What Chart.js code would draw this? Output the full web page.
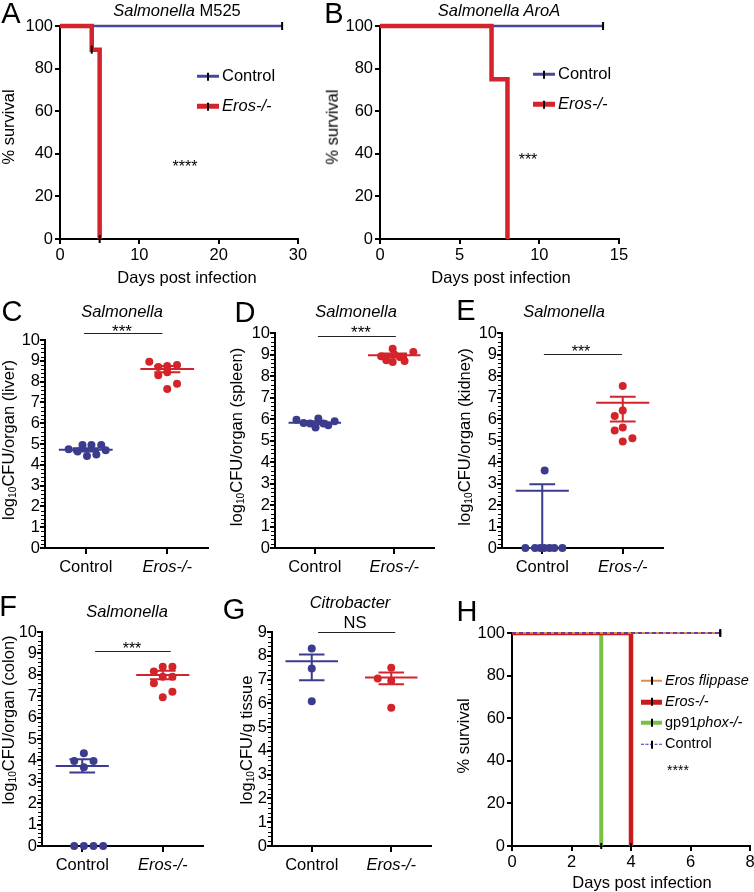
<!DOCTYPE html>
<html>
<head>
<meta charset="utf-8">
<script src="https://cdn.jsdelivr.net/npm/chart.js@4.4.0/dist/chart.umd.min.js"></script>
<style>
html, body { margin: 0; padding: 0; background: #fff; }
#fig { position: relative; width: 754px; height: 892px; overflow: hidden; font-family: "Liberation Sans", Arial, sans-serif; color: #000; }
#fig canvas { position: absolute; left: 0; top: 0; }
.t { position: absolute; white-space: nowrap; line-height: 1; transform: translate(-50%, -50%); }
.rot { transform: translate(-50%, -50%) rotate(-90deg); }
.leg { position: absolute; white-space: nowrap; line-height: 1; transform: translateY(-50%); }
.sw { display: inline-block; vertical-align: middle; position: relative; width: 22px; margin-right: 3px; }
.sw i { position: absolute; left: 10px; width: 2px; height: 8px; top: 50%; margin-top: -4px; background: #000; }
sub { font-size: 0.62em; vertical-align: -0.25em; }
</style>
</head>
<body>
<div id="fig"></div>
<script>
const FONT = "'Liberation Sans', Arial, Helvetica, sans-serif";
const BLUE = '#3c3c8f';
const BLUE_S = '#47479c';
const RED = '#d3242b';
const RED_H = '#c81b1b';
const GREEN = '#7ac143';
const ORANGE = '#e4894a';
const DASH_BLUE = '#2e2eb4';

// ---- A: Salmonella M525 survival
const aCtrlDays = [0, 28];
const aCtrlSurv = [100, 100];
const aErosDays = [0, 4, 5];
const aErosSurv = [100, 88.9, 0];

// ---- B: Salmonella AroA survival
const bCtrlDays = [0, 14];
const bCtrlSurv = [100, 100];
const bErosDays = [0, 7, 8];
const bErosSurv = [100, 75, 0];

// ---- H: survival, four strains
const hFlipDays = [0, 7];
const hFlipSurv = [100, 100];
const hErosDays = [0, 4];
const hErosSurv = [100, 0];
const hPhoxDays = [0, 3];
const hPhoxSurv = [100, 0];
const hCtrlDays = [0, 7];
const hCtrlSurv = [100, 100];

const groups = ['Control', 'Eros-/-'];

// ---- C: liver (x = group index + jitter)
const cCtrlX = [-0.21, -0.1, -0.04, 0.015, 0.07, 0.13, 0.19, 0.245];
const cCtrlY = [4.75, 4.64, 4.95, 4.42, 4.95, 4.5, 4.95, 4.7];
const cErosX = [0.78, 0.89, 1.0, 1.12, 0.89, 1.0, 1.12, 1.0];
const cErosY = [8.95, 8.7, 8.75, 8.8, 8.3, 8.45, 7.9, 7.65];
const cMean = [4.72, 8.6], cHi = [4.8, 8.75], cLo = [4.64, 8.45];

// ---- D: spleen
const dCtrlX = [-0.23, -0.14, -0.06, 0.01, 0.045, 0.11, 0.17, 0.25];
const dCtrlY = [5.97, 5.81, 5.79, 5.6, 6.02, 5.79, 5.71, 5.89];
const dErosX = [0.835, 0.9, 0.98, 0.98, 1.07, 1.13, 1.24, 1.0];
const dErosY = [8.92, 8.73, 9.27, 8.65, 8.88, 8.7, 9.12, 9.0];
const dMean = [5.83, 8.96], dHi = [5.9, 9.05], dLo = [5.76, 8.87];

// ---- E: kidney
const eCtrlX = [-0.21, -0.09, -0.025, 0.025, 0.09, 0.15, 0.25, 0.03];
const eCtrlY = [0, 0, 0, 0, 0, 0, 0, 3.6];
const eErosX = [1.0, 1.0, 0.9, 1.0, 0.9, 1.12, 1.0];
const eErosY = [7.53, 6.39, 6.14, 5.61, 5.46, 5.1, 4.95];
const eMean = [2.66, 6.76], eHi = [2.96, 7.04], eLo = [0, 5.88];

// ---- F: colon
const fCtrlX = [-0.1, 0.02, 0.14, 0.26, 0.02, -0.1, 0.14, 0.02];
const fCtrlY = [0, 0, 0, 0, 4.33, 3.97, 3.97, 3.68];
const fErosX = [0.89, 1.0, 1.12, 0.89, 1.0, 1.12, 1.12, 1.0];
const fErosY = [8.15, 8.38, 8.38, 7.6, 7.91, 7.91, 7.21, 6.95];
const fMean = [3.74, 7.99], fHi = [4.05, 8.19], fLo = [3.43, 7.79];

// ---- G: Citrobacter
const gCtrlX = [0, 0, 0];
const gCtrlY = [8.31, 7.46, 6.09];
const gErosX = [1.0, 0.83, 1.0, 1.0];
const gErosY = [7.5, 7.04, 6.95, 5.81];
const gMean = [7.77, 7.09], gHi = [8.05, 7.3], gLo = [6.97, 6.8];

const fig = document.getElementById('fig');
const YW = 40, XH = 30;

function pts(xs, ys) { return xs.map((x, i) => ({x: x, y: ys[i]})); }

function meanSem(c, m, hi, lo) {
  return [
    {x: c - 0.33, y: m}, {x: c + 0.33, y: m}, {x: c, y: null},
    {x: c - 0.16, y: hi}, {x: c + 0.16, y: hi}, {x: c, y: null},
    {x: c - 0.16, y: lo}, {x: c + 0.16, y: lo}, {x: c, y: null},
    {x: c, y: hi}, {x: c, y: lo}
  ];
}

const minorTicks = {
  id: 'minorTicks',
  afterDraw(chart, args, opts) {
    if (!opts.step) return;
    const y = chart.scales.y, ctx = chart.ctx, left = chart.chartArea.left;
    const n = Math.round(y.max / opts.step);
    ctx.save();
    ctx.strokeStyle = '#000';
    ctx.lineWidth = 1;
    for (let i = 0; i <= n; i++) {
      const v = i * opts.step;
      if (Math.abs(v - Math.round(v)) < 1e-6) continue;
      const py = Math.round(y.getPixelForValue(v)) + 0.5;
      ctx.beginPath();
      ctx.moveTo(left - 4, py);
      ctx.lineTo(left, py);
      ctx.stroke();
    }
    ctx.restore();
  }
};

const sigBar = {
  id: 'sigBar',
  afterDraw(chart, args, opts) {
    if (opts.y === undefined) return;
    const xs = chart.scales.x, ys = chart.scales.y, ctx = chart.ctx;
    const py = Math.round(ys.getPixelForValue(opts.y)) + 0.5;
    ctx.save();
    ctx.strokeStyle = '#222';
    ctx.lineWidth = 1;
    ctx.beginPath();
    ctx.moveTo(xs.getPixelForValue(opts.x0), py);
    ctx.lineTo(xs.getPixelForValue(opts.x1), py);
    ctx.stroke();
    ctx.restore();
  }
};

function axisBase() {
  return {
    border: {display: true, color: '#000', width: 2},
    grid: {display: true, drawOnChartArea: false, drawTicks: true, tickLength: 5, color: '#000', lineWidth: 2}
  };
}

function makeChart(area, xScale, yScale, datasets, pluginOpts) {
  const cv = document.createElement('canvas');
  cv.width = 754; cv.height = 892;
  fig.appendChild(cv);
  const [L, T, R, B] = area;
  xScale.afterFit = s => { s.height = XH; s.paddingLeft = 0; s.paddingRight = 0; };
  yScale.afterFit = s => { s.width = YW; s.paddingTop = 0; s.paddingBottom = 0; };
  return new Chart(cv, {
    type: 'line',
    data: {datasets: datasets},
    options: {
      responsive: false,
      animation: false,
      devicePixelRatio: 1,
      layout: {autoPadding: false, padding: {left: L - YW, top: T, right: 754 - R, bottom: 892 - B - XH}},
      plugins: Object.assign({legend: {display: false}, tooltip: {enabled: false}}, pluginOpts || {}),
      scales: {x: xScale, y: yScale}
    },
    plugins: [minorTicks, sigBar]
  });
}

function survX(max, step) {
  return Object.assign(axisBase(), {
    type: 'linear', min: 0, max: max,
    ticks: {stepSize: step, autoSkip: false, color: '#000', padding: 2, maxRotation: 0, font: {family: FONT, size: 16.5}}
  });
}
function survY() {
  return Object.assign(axisBase(), {
    type: 'linear', min: 0, max: 100,
    ticks: {stepSize: 20, autoSkip: false, color: '#000', padding: 2, font: {family: FONT, size: 16.5}}
  });
}
function survSet(xs, ys, color, width, radii, dash, clip) {
  return {
    data: pts(xs, ys), stepped: 'before', borderColor: color, borderWidth: width,
    borderDash: dash || [], fill: false, clip: clip === undefined ? false : clip,
    pointStyle: 'line', pointRotation: 90, pointRadius: radii, pointHoverRadius: 0,
    pointBorderColor: '#000', pointBorderWidth: 2
  };
}

function catX() {
  const a = axisBase();
  a.grid.tickLength = 6;
  return Object.assign(a, {
    type: 'linear', min: -0.5, max: 1.5,
    afterBuildTicks: s => { s.ticks = [{value: 0}, {value: 1}]; },
    ticks: {
      autoSkip: false, maxRotation: 0, color: '#000', padding: 4,
      callback: v => groups[v],
      font: c => ({family: FONT, size: 16.5, style: c.index === 1 ? 'italic' : 'normal'})
    }
  });
}
function cfuY(max) {
  const a = axisBase();
  a.grid.tickLength = 5;
  return Object.assign(a, {
    type: 'linear', min: 0, max: max,
    ticks: {stepSize: 1, autoSkip: false, color: '#000', padding: 0, font: {family: FONT, size: 16.5}}
  });
}
function dotSet(xs, ys, color) {
  return {data: pts(xs, ys), showLine: false, pointRadius: 4, pointHoverRadius: 0,
    pointBackgroundColor: color, pointBorderWidth: 0, clip: false};
}
function statSet(c, m, hi, lo, color) {
  return {data: meanSem(c, m, hi, lo), borderColor: color, borderWidth: 2, pointRadius: 0,
    spanGaps: false, fill: false, clip: false};
}
function scatterPanel(area, yMax, ctrlX, ctrlY, erosX, erosY, mean, hi, lo, sig) {
  makeChart(area, catX(), cfuY(yMax), [
    statSet(0, mean[0], hi[0], lo[0], BLUE),
    statSet(1, mean[1], hi[1], lo[1], RED),
    dotSet(ctrlX, ctrlY, BLUE),
    dotSet(erosX, erosY, RED)
  ], {minorTicks: {step: 0.2}, sigBar: sig});
}

// A
makeChart([60, 26, 298, 239], survX(30, 10), survY(), [
  survSet(aErosDays, aErosSurv, RED, 4.5, [0, 4, 4]),
  survSet(aCtrlDays, aCtrlSurv, BLUE_S, 2.5, [0, 4])
]);
// B
makeChart([380, 26, 619, 239], survX(15, 5), survY(), [
  survSet(bErosDays, bErosSurv, RED, 4.5, [0, 0, 0]),
  survSet(bCtrlDays, bCtrlSurv, BLUE_S, 2.5, [0, 4])
]);
// C-G
scatterPanel([45, 340, 208, 548], 10, cCtrlX, cCtrlY, cErosX, cErosY, cMean, cHi, cLo, {x0: -0.02, x1: 0.94, y: 10.35});
scatterPanel([275, 333, 434, 548], 10, dCtrlX, dCtrlY, dErosX, dErosY, dMean, dHi, dLo, {x0: 0.04, x1: 1.02, y: 9.85});
scatterPanel([502, 333, 663, 548], 10, eCtrlX, eCtrlY, eErosX, eErosY, eMean, eHi, eLo, {x0: 0.02, x1: 0.99, y: 9.02});
scatterPanel([42, 632, 203, 846], 10, fCtrlX, fCtrlY, fErosX, fErosY, fMean, fHi, fLo, {x0: 0.16, x1: 1.1, y: 9.1});
scatterPanel([272, 632, 431, 846], 9, gCtrlX, gCtrlY, gErosX, gErosY, gMean, gHi, gLo, {x0: 0.08, x1: 1.05, y: 9.0});
// H
const hClip = {left: 5, top: 0, right: 5, bottom: 5};
makeChart([512, 633, 750, 846], survX(8, 2), survY(), [
  survSet(hCtrlDays, hCtrlSurv, DASH_BLUE, 1.5, [0, 3], [4, 3]),
  survSet(hFlipDays, hFlipSurv, ORANGE, 2, [0, 4]),
  survSet(hErosDays, hErosSurv, RED_H, 4.5, [0, 3], [], hClip),
  survSet(hPhoxDays, hPhoxSurv, GREEN, 4, [0, 3], [], hClip)
]);

// ---- text
function txt(html, x, y, size, cls) {
  const d = document.createElement('div');
  d.className = 't' + (cls ? ' ' + cls : '');
  d.style.left = x + 'px';
  d.style.top = y + 'px';
  d.style.fontSize = size + 'px';
  d.innerHTML = html;
  fig.appendChild(d);
}
function legRow(x, y, size, swatch, label) {
  const d = document.createElement('div');
  d.className = 'leg';
  d.style.left = x + 'px';
  d.style.top = y + 'px';
  d.style.fontSize = size + 'px';
  d.innerHTML = '<span class="sw" style="' + swatch + '"><i></i></span>' + label;
  fig.appendChild(d);
}

// panel letters
[['A', 11, 13], ['B', 334, 13], ['C', 12, 311], ['D', 245, 312], ['E', 466, 310],
 ['F', 8, 606], ['G', 234, 609], ['H', 467, 611]].forEach(p => txt(p[0], p[1], p[2], 29));

// titles
txt('<i>Salmonella</i> M525', 177, 10, 16.5);
txt('<i>Salmonella AroA</i>', 499, 10, 16.5);
txt('<i>Salmonella</i>', 122, 311, 16.5);
txt('<i>Salmonella</i>', 356, 311, 16.5);
txt('<i>Salmonella</i>', 564, 311, 16.5);
txt('<i>Salmonella</i>', 127, 611, 16.5);
txt('<i>Citrobacter</i>', 350, 602, 16.5);
txt('NS', 355, 622, 16.5);

// significance stars
txt('****', 185, 167, 16);
txt('***', 528, 160, 16);
txt('***', 122, 331, 17);
txt('***', 361, 332, 17);
txt('***', 581, 352, 16);
txt('***', 132, 649, 16);
txt('****', 678, 770, 14);

// axis titles
txt('% survival', 8, 127, 16.5, 'rot');
txt('% survival', 332, 127, 16.5, 'rot');
txt('% survival', 463, 736, 16.5, 'rot');
txt('log<sub>10</sub>CFU/organ (liver)', 9, 440, 16.5, 'rot');
txt('log<sub>10</sub>CFU/organ (spleen)', 237, 437, 16.5, 'rot');
txt('log<sub>10</sub>CFU/organ (kidney)', 465, 437, 16.5, 'rot');
txt('log<sub>10</sub>CFU/organ (colon)', 9, 720, 16.5, 'rot');
txt('log<sub>10</sub>CFU/g tissue', 247, 740, 16.5, 'rot');
txt('Days post infection', 187, 277, 16.5);
txt('Days post infection', 501, 277, 16.5);
txt('Days post infection', 642, 882, 16.5);

// legends
legRow(197, 75, 16.5, 'height:3px;background:' + BLUE_S, 'Control');
legRow(197, 105, 16.5, 'height:5px;background:' + RED, '<i>Eros-/-</i>');
legRow(533, 73, 16.5, 'height:3px;background:' + BLUE_S, 'Control');
legRow(533, 103, 16.5, 'height:5px;background:' + RED, '<i>Eros-/-</i>');
legRow(641, 680, 14.5, 'height:2px;width:21px;background:' + ORANGE, '<i>Eros flippase</i>');
legRow(641, 701, 14.5, 'height:5px;width:21px;background:' + RED_H, '<i>Eros-/-</i>');
legRow(641, 722, 14.5, 'height:4px;width:21px;background:' + GREEN, 'gp91<i>phox-/-</i>');
legRow(641, 743, 14.5, 'height:0;width:21px;border-top:1.5px dashed ' + DASH_BLUE, 'Control');
</script>
</body>
</html>
